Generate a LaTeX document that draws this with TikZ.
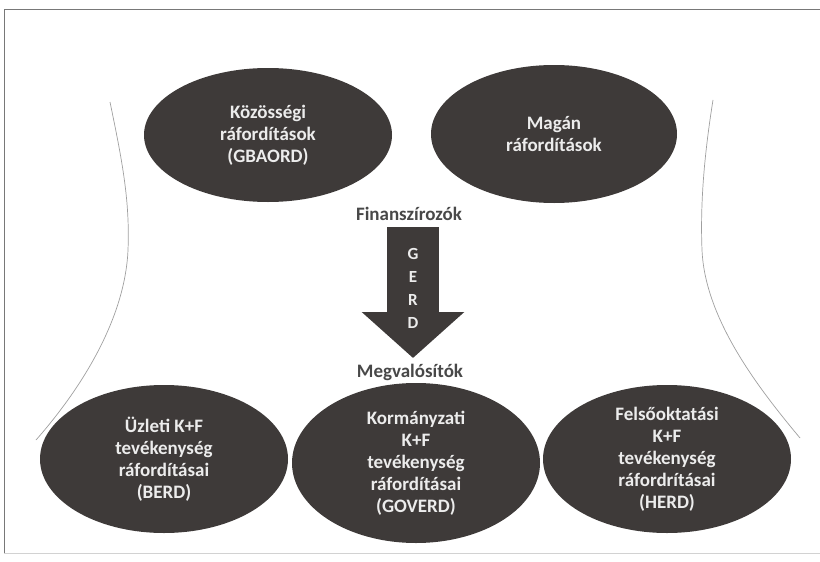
\documentclass[tikz,border=0pt]{standalone}
\usepackage{fontspec}
\setmainfont{Carlito}
\usetikzlibrary{shapes.geometric,arrows.meta}
\definecolor{blobgray}{RGB}{62,58,57}
\definecolor{blobtext}{RGB}{236,236,236}
\definecolor{labelgray}{RGB}{72,72,72}
\definecolor{framegray}{RGB}{120,120,120}

\begin{document}
\begin{tikzpicture}[x=1pt, y=-1pt,
  blob/.style={ellipse, fill=blobgray, text=blobtext, align=center, inner sep=0pt,
    font=\bfseries\fontsize{19}{22}\selectfont},
  stage/.style={text=labelgray, font=\bfseries\fontsize{19}{22}\selectfont},
  sideline/.style={draw=gray!75, line width=0.7pt}]
  \useasboundingbox (0,0) rectangle (820,562);

  % Frame
  \draw[framegray, line width=0.9pt] (820,9) -- (4,9) -- (4,553);
  \draw[gray!35, line width=0.9pt] (4,553) -- (820,553);

  % Side curves
  \draw[sideline] (110,102) .. controls (122,160) and (130,200) .. (128,250)
    .. controls (125,320) and (80,390) .. (36,440);
  \draw[sideline] (713,100) .. controls (705,150) and (700,200) .. (702,250)
    .. controls (705,320) and (760,390) .. (800,438);

  % Funders
  \node[blob, minimum width=248pt, minimum height=134pt] (gbaord) at (268,135)
    {Közösségi\\ráfordítások\\(GBAORD)};
  \node[blob, minimum width=246pt, minimum height=138pt] (magan) at (554,134)
    {Magán\\ráfordítások};

  % GERD arrow
  \node[stage] (fin) at (409,214) {Finanszírozók};
  \node[stage] (megv) at (410,372) {Megvalósítók};
  \coordinate (gtop) at (413,227);
  \coordinate (gtip) at (413,358);
  \draw[blobgray, line width=52pt, -{Triangle[width=100pt,length=46pt]}] (gtop) -- (gtip);
  \node[text=blobtext, align=center, font=\bfseries\fontsize{17}{23}\selectfont] (gerd) at (413,288)
    {G\\E\\R\\D};

  % Performers
  \node[blob, minimum width=248pt, minimum height=148pt] (berd) at (164,459)
    {Üzleti K+F\\tevékenység\\ráfordításai\\(BERD)};
  \node[blob, minimum width=248pt, minimum height=160pt] (goverd) at (416,463)
    {Kormányzati\\K+F\\tevékenység\\ráfordításai\\(GOVERD)};
  \node[blob, minimum width=248pt, minimum height=148pt] (herd) at (667,459)
    {Felsőoktatási\\K+F\\tevékenység\\ráfordrításai\\(HERD)};
\end{tikzpicture}
\end{document}
